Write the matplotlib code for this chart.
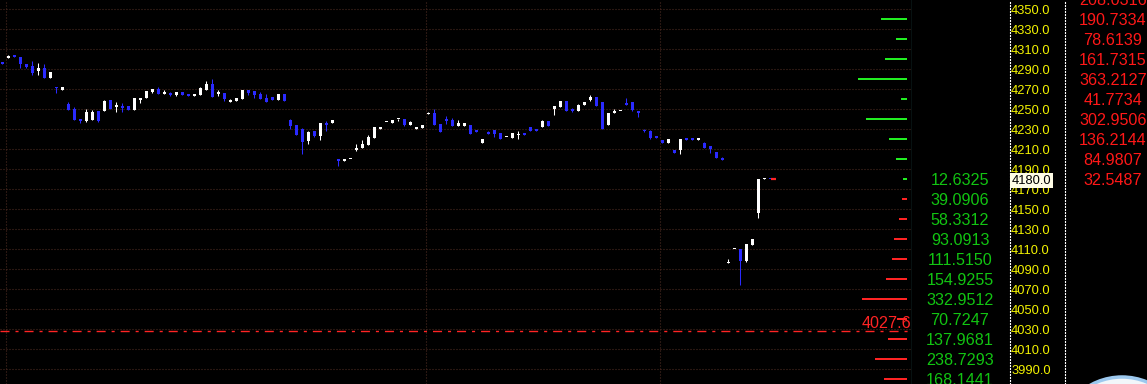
import numpy as np
import matplotlib
matplotlib.use('Agg')
import matplotlib.pyplot as plt
from matplotlib.patches import Circle
from matplotlib.transforms import IdentityTransform

plt.rcParams['lines.scale_dashes'] = False
plt.rcParams['font.family'] = ['Liberation Sans', 'DejaVu Sans']

# OHLC, one row per bar (open, high, low, close)
ohlc = [
    (4296, 4296, 4295.5, 4295.5), (4301.5, 4304, 4301.5, 4302.3), (4304, 4304, 4302, 4302),
    (4302, 4302, 4291, 4295), (4295, 4295, 4291, 4292), (4293, 4298, 4284, 4285.7),
    (4288, 4296, 4284, 4291), (4291, 4295, 4281, 4281), (4281, 4287, 4281, 4287),
    (4272, 4272, 4266, 4271), (4269, 4272, 4269, 4272), (4255, 4257, 4249, 4249),
    (4250, 4252, 4239, 4239), (4240, 4240, 4236, 4238), (4238, 4250, 4237, 4247),
    (4239, 4249, 4239, 4247), (4248, 4248, 4237, 4238), (4248, 4259, 4248, 4258),
    (4259, 4259, 4250, 4250), (4252, 4257, 4247, 4254), (4253, 4256, 4247, 4251),
    (4253, 4253, 4249, 4249), (4249, 4261, 4249, 4261), (4259, 4261, 4256, 4261),
    (4261, 4268, 4261, 4268), (4267, 4270, 4266, 4270), (4270, 4272, 4265, 4265),
    (4265, 4269, 4265, 4267), (4266, 4267, 4263, 4264), (4264, 4267, 4263, 4267),
    (4267, 4267, 4264, 4264), (4265, 4265, 4263, 4263), (4263, 4265, 4263, 4265),
    (4264, 4272, 4264, 4271), (4269, 4278, 4269, 4275), (4275, 4280, 4262, 4262),
    (4265, 4269, 4263, 4267), (4266, 4266, 4258, 4260), (4257, 4260, 4257, 4259),
    (4258, 4261, 4258, 4261), (4260, 4269, 4260, 4269), (4269, 4269, 4264, 4266),
    (4268, 4268, 4261, 4264), (4265, 4267, 4260, 4260), (4261, 4265, 4257, 4257),
    (4262, 4262, 4259, 4259), (4259, 4265, 4259, 4265), (4265, 4265, 4258, 4258),
    (4239, 4240, 4230, 4233), (4234, 4234, 4224, 4224), (4230, 4231, 4205, 4217),
    (4218, 4228, 4215, 4227), (4228, 4228, 4222, 4223), (4223, 4236, 4219, 4236),
    (4236, 4238, 4228, 4234), (4236, 4239, 4236, 4239), (4200, 4200, 4193, 4198),
    (4198, 4200, 4198, 4200), (4200, 4200.3, 4200, 4200.3), (4209, 4215, 4208, 4211),
    (4211, 4219, 4211, 4215), (4214, 4224, 4214, 4222), (4221, 4232, 4221, 4232),
    (4230, 4232, 4230, 4232), (4237, 4237.3, 4237, 4237.3), (4236, 4239, 4236, 4239),
    (4240, 4240.5, 4238, 4240.5), (4240, 4240, 4233, 4234), (4234, 4238, 4234, 4237),
    (4230, 4232, 4230, 4232), (4231, 4234, 4231, 4234), (4245, 4247, 4245, 4246),
    (4246, 4250, 4234, 4234), (4235, 4235, 4227, 4227), (4240, 4243, 4235, 4238),
    (4239, 4241, 4233, 4233), (4233, 4239, 4233, 4236), (4233, 4236, 4233, 4236),
    (4234, 4234, 4225, 4225), (4229, 4229, 4227, 4227), (4216, 4220, 4216, 4220),
    (4227, 4228, 4225, 4225), (4229, 4229, 4222, 4225), (4226, 4226, 4220, 4220),
    (4222, 4222.3, 4222, 4222.3), (4221, 4226, 4221, 4226), (4224, 4228, 4220, 4225),
    (4225, 4225, 4224.5, 4224.5), (4232, 4232, 4228, 4228), (4230, 4230, 4228, 4228),
    (4232, 4239, 4232, 4238), (4238, 4238, 4233, 4233), (4250, 4253, 4244, 4253),
    (4252, 4258, 4252, 4258), (4258, 4258, 4248, 4248), (4250, 4251, 4247, 4248),
    (4248, 4255, 4248, 4254), (4254, 4257, 4254, 4257), (4259, 4264, 4258, 4262),
    (4262, 4262, 4253, 4253), (4257, 4257, 4230, 4230), (4234, 4246, 4234, 4246),
    (4246, 4250, 4246, 4248), (4248, 4248.3, 4248, 4248.3), (4256, 4261, 4254, 4254),
    (4257, 4257, 4248, 4249), (4248, 4248, 4242, 4246), (4229, 4230, 4227, 4228),
    (4228, 4229, 4220, 4221), (4222, 4222, 4221.5, 4221.5), (4219, 4219, 4216, 4216),
    (4216, 4220, 4216, 4220), (4209, 4209, 4206, 4206), (4209, 4220, 4205, 4220),
    (4220, 4220, 4219.5, 4219.5), (4220, 4220, 4219.5, 4219.5), (4219.5, 4220, 4219.5, 4220),
    (4216, 4217, 4211, 4211), (4213, 4213, 4206, 4210), (4207, 4207, 4201, 4201),
    (4201, 4202, 4199, 4199), (4096, 4100, 4096, 4097), (4110, 4110.3, 4110, 4110.3),
    (4110, 4110, 4074, 4098), (4098, 4115, 4097, 4115), (4114, 4120, 4114, 4120),
    (4146, 4180, 4141, 4180), (4180, 4181, 4180, 4180.3), (4180.3, 4180.3, 4180, 4180),
]
session_starts = [1, 71, 110]
ref_line = 4027.6

# volume profile (price level -> volume)
up_levels = [4340, 4320, 4300, 4280, 4260, 4240, 4220, 4200, 4180]
up_vol = [190.7334, 78.6139, 161.7315, 363.2127, 41.7734, 302.9506, 136.2144, 84.9807, 32.5487]
dn_levels = [4160, 4140, 4120, 4100, 4080, 4060, 4040, 4020, 4000, 3980]
dn_vol = [39.0906, 58.3312, 93.0913, 111.5150, 154.9255, 332.9512, 70.7247, 137.9681, 238.7293, 168.1441]
# numbers printed in the two side columns
green_col_levels = [4180] + dn_levels
green_col_vals = [12.6325] + dn_vol
red_col_levels = [4360] + up_levels
red_col_vals = [208.0316] + up_vol
price_ticks = list(range(3990, 4351, 20))

W, H = 1147, 384
ylim = (3975, 4359)
grid_c = '#522e24'
dot = (0, (0.72, 1.44))
blue = '#2a2aff'
red = '#ff2424'

o, h, l, c = np.array(ohlc).T
idx = np.arange(len(o))
up = c >= o
colors = np.where(up, 'white', blue)

fig = plt.figure(figsize=(W / 100, H / 100), dpi=100, facecolor='black')

# candles
ax = fig.add_axes([0, 0, 912 / W, 1], facecolor='black')
ax.set_xlim(-2.3 / 6, (912 - 2.3) / 6)
ax.set_ylim(*ylim)
ax.set_yticks(price_ticks)
ax.grid(axis='y', color=grid_c, linestyle=dot, linewidth=0.8)
ax.tick_params(left=False, bottom=False, labelleft=False, labelbottom=False)
for s in session_starts:
    ax.axvline(s - 0.4, color=grid_c, linestyle=dot, linewidth=0.8)
ax.vlines(idx, l, h, colors=colors, linewidth=0.75, zorder=3)
body_lo = np.minimum(o, c)
body_h = np.maximum(np.abs(c - o), 1.2)
ax.bar(idx, body_h, bottom=body_lo, width=0.5, color=colors, linewidth=0, zorder=4)
ax.hlines(c[-1], idx[-1] + 0.15, idx[-1] + 1.0, color=red, linewidth=1.6, zorder=5)
ax.axhline(ref_line, color=red, linewidth=1.0, dashes=(6.5, 4.3, 2.2, 4.3), zorder=2)
ax.annotate(f'{ref_line:.1f}', xy=(1, ref_line), xycoords=('axes fraction', 'data'),
            xytext=(-1, 3), textcoords='offset pixels', ha='right', va='baseline',
            color=red, fontsize=11.6, zorder=6)
for side in ['top', 'left', 'bottom']:
    ax.spines[side].set_visible(False)
ax.spines['right'].set_color('#3f8a8a')
ax.spines['right'].set_linewidth(0.9)

# volume profile bars
axv = fig.add_axes([800 / W, 0, 107 / W, 1])
axv.patch.set_alpha(0)
axv.set_ylim(*ylim)
axv.set_xlim(107 * 7.4, 0)
axv.barh(up_levels, up_vol, height=2, color='#22ee22', linewidth=0)
axv.barh(dn_levels, dn_vol, height=2, color=red, linewidth=0)
axv.axis('off')

# number column + price scale
axt = fig.add_axes([912 / W, 0, 98 / W, 1], facecolor='black')
axt.set_ylim(*ylim)
axt.set_xlim(0, 1)
fs_num = 11.6
off = -0.72 * fs_num * 100 / 72 / 2
for lv, v in zip(green_col_levels, green_col_vals):
    axt.annotate(f'{v:.4f}', xy=(0.49, lv), xytext=(0, off), textcoords='offset pixels',
                 ha='center', va='baseline', color='#12c412', fontsize=fs_num)
axt.set_xticks([])
axt.set_yticks(price_ticks)
axt.set_yticklabels([f'{t:.1f}' for t in price_ticks])
axt.yaxis.tick_right()
axt.tick_params(axis='y', length=0, pad=0.8, labelsize=9.3, labelcolor='#f4f400')
for side in ['top', 'left', 'bottom']:
    axt.spines[side].set_visible(False)
axt.spines['right'].set_color('white')
axt.spines['right'].set_linestyle(dot)
axt.spines['right'].set_linewidth(0.8)
axt.annotate(f'{c[-1]:.1f}', xy=(1, c[-1]), xycoords=('axes fraction', 'data'),
             xytext=(2, 0), textcoords='offset pixels', ha='left', va='center_baseline',
             color='black', fontsize=9.3, zorder=10, annotation_clip=False,
             bbox=dict(boxstyle='square,pad=0.12', facecolor='#fffde6', edgecolor='none'))

# right column
axr = fig.add_axes([1065 / W, 0, 82 / W, 1], facecolor='black')
axr.set_ylim(*ylim)
axr.set_xlim(0, 1)
for lv, v in zip(red_col_levels, red_col_vals):
    axr.annotate(f'{v:.4f}', xy=(0.585, lv), xytext=(0, off), textcoords='offset pixels',
                 ha='center', va='baseline', color='#ff1818', fontsize=fs_num,
                 annotation_clip=False)
axr.set_xticks([])
axr.set_yticks([])
for side in ['top', 'right', 'bottom']:
    axr.spines[side].set_visible(False)
axr.spines['left'].set_color('white')
axr.spines['left'].set_linestyle(dot)
axr.spines['left'].set_linewidth(0.8)

# clock widget peeking in at the bottom right
fig.add_artist(Circle((1122, -58), 65, transform=IdentityTransform(),
                      facecolor='#f2f6fa', edgecolor='#9cc8ee', linewidth=2.5))

fig.savefig('out.png', dpi=100, facecolor='black')
